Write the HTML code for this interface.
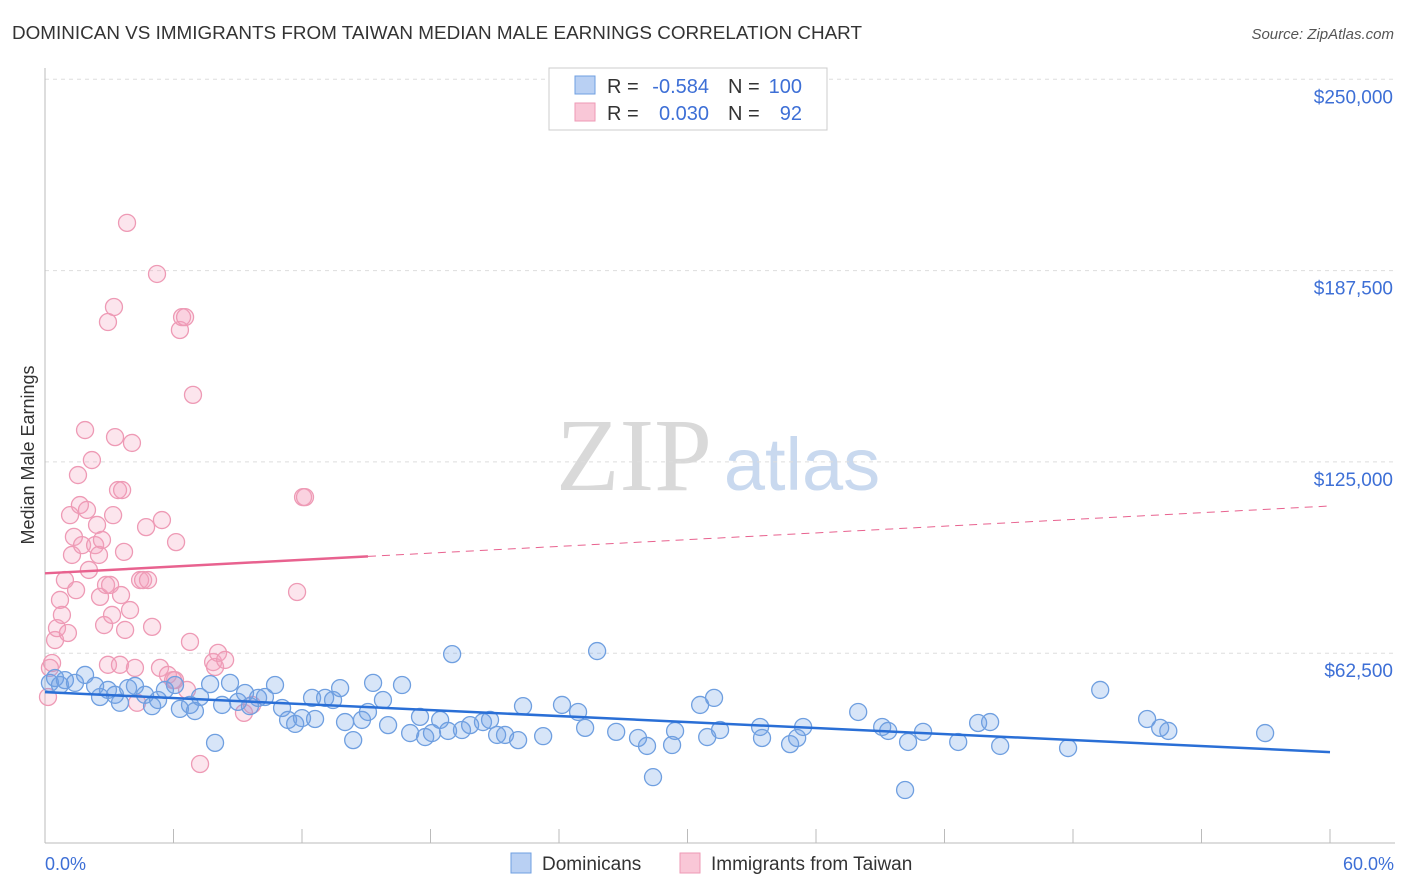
<!DOCTYPE html>
<html><head><meta charset="utf-8"><style>
body{margin:0;background:#fff;font-family:"Liberation Sans",sans-serif;}
svg{display:block}
</style></head><body>
<svg id="chart" width="1406" height="892" viewBox="0 0 1406 892">
<text x="12" y="39" font-size="18" fill="#333" textLength="850" lengthAdjust="spacingAndGlyphs">DOMINICAN VS IMMIGRANTS FROM TAIWAN MEDIAN MALE EARNINGS CORRELATION CHART</text>
<text x="1394" y="39" font-size="15" fill="#555" font-style="italic" text-anchor="end">Source: ZipAtlas.com</text>
<g>
<text x="634" y="490" font-size="104" fill="#d9d9d9" font-family="Liberation Serif,serif" text-anchor="middle">ZIP</text>
<text x="802" y="490" font-size="74" fill="#c9d9ef" text-anchor="middle">atlas</text>
</g>
<g id="grid"></g>
<g id="axes"></g>
<text transform="translate(34,455) rotate(-90)" font-size="18" fill="#333" text-anchor="middle">Median Male Earnings</text>
<text x="45" y="870" font-size="18" fill="#3d6fd6">0.0%</text>
<text x="1394" y="870" font-size="18" fill="#3d6fd6" text-anchor="end">60.0%</text>
<g id="pink"></g>
<g id="blue"></g>
<g id="lines"></g>
<g font-size="20">
<rect x="549" y="68" width="278" height="62" fill="#fff" stroke="#ccc"/>
<rect x="575" y="76" width="20" height="18" fill="#b9d0f3" stroke="#6f9fe0"/>
<rect x="575" y="103" width="20" height="18" fill="#f9c7d7" stroke="#ee9ab5"/>
<text x="607" y="93" fill="#333">R =</text>
<text x="709" y="93" fill="#3d6fd6" text-anchor="end">-0.584</text>
<text x="728" y="93" fill="#333">N =</text>
<text x="802" y="93" fill="#3d6fd6" text-anchor="end">100</text>
<text x="607" y="120" fill="#333">R =</text>
<text x="709" y="120" fill="#3d6fd6" text-anchor="end">0.030</text>
<text x="728" y="120" fill="#333">N =</text>
<text x="802" y="120" fill="#3d6fd6" text-anchor="end">92</text>
</g>
<g>
<rect x="511" y="853" width="20" height="20" fill="#b9d0f3" stroke="#6f9fe0"/>
<text x="542" y="870" font-size="19" fill="#333">Dominicans</text>
<rect x="680" y="853" width="20" height="20" fill="#f9c7d7" stroke="#ee9ab5"/>
<text x="711" y="870" font-size="19" fill="#333">Immigrants from Taiwan</text>
</g>
</svg>
<script>
const yTicks=[62.5,125,187.5,250];
const yTickLabels=["$62,500","$125,000","$187,500","$250,000"];
const xTicks=[0,6,12,18,24,30,36,42,48,54,60];
const blueX=[0.23,0.47,0.70,0.93,1.40,1.87,2.34,2.57,2.94,3.27,3.50,3.88,4.20,4.67,5.00,5.28,5.60,6.07,6.30,6.77,7.00,7.24,7.71,7.94,8.27,8.64,9.01,9.34,9.57,9.95,10.27,10.74,11.07,11.35,11.68,12.00,12.47,12.61,13.08,13.45,13.78,14.01,14.39,14.80,15.08,15.32,15.78,16.02,16.67,17.05,17.51,17.75,18.07,18.45,18.82,19.01,19.47,19.85,20.45,20.78,21.11,21.48,22.09,22.32,23.26,24.14,24.89,25.22,25.78,26.67,27.69,28.11,28.39,29.28,29.42,30.59,30.92,31.24,31.52,33.39,33.48,34.79,35.12,35.40,37.97,39.09,39.37,40.30,40.16,41.00,42.64,43.57,44.13,44.60,47.77,49.27,51.46,52.07,52.45,56.97];
const blueY=[52.8,54.4,52.1,53.7,52.8,55.4,51.8,48.2,50.5,48.9,46.3,51.1,51.8,48.9,45.2,47.2,50.5,52.1,44.3,45.6,43.6,48.2,52.4,33.2,45.6,52.8,46.6,49.5,45.2,47.9,48.2,52.1,44.6,40.7,39.4,41.3,47.9,41.0,47.9,47.2,51.1,40.0,34.1,40.7,43.3,52.8,47.2,39.0,52.1,36.4,41.7,35.1,36.4,40.7,37.1,62.2,37.4,39.0,40.0,40.7,35.8,35.8,34.1,45.2,35.4,45.6,43.3,38.1,63.2,36.8,34.8,32.2,22.0,32.5,37.1,45.6,35.1,47.9,37.4,38.4,34.8,32.8,34.8,38.4,43.3,38.4,37.1,33.5,17.8,36.8,33.5,39.7,40.0,32.2,31.5,50.5,41.0,38.1,37.1,36.4];
const pinkX=[0.14,0.23,0.33,0.47,0.56,0.70,0.79,0.93,1.07,1.17,1.26,1.35,1.45,1.54,1.63,1.73,1.87,1.96,2.05,2.19,2.34,2.43,2.52,2.57,2.66,2.76,2.85,2.94,2.94,3.04,3.13,3.18,3.22,3.27,3.41,3.50,3.55,3.60,3.69,3.74,3.83,3.97,4.06,4.20,4.30,4.44,4.58,4.72,4.81,5.00,5.23,5.37,5.46,5.74,5.98,6.07,6.12,6.30,6.40,6.54,6.63,6.77,6.91,7.24,7.85,7.94,8.08,8.41,9.29,9.67,11.77,12.05,12.14];
const pinkY=[48.2,57.7,59.3,66.8,70.7,79.9,75.0,86.4,69.1,107.6,94.6,100.5,83.1,120.7,110.9,97.8,135.4,109.3,89.7,125.6,97.8,104.4,94.6,80.9,99.5,71.7,84.8,58.7,170.7,84.8,75.0,107.6,175.6,133.1,115.8,58.7,81.5,115.8,95.6,70.1,203.1,76.6,131.2,57.7,46.3,86.4,86.4,103.7,86.4,71.1,186.4,57.7,106.0,55.4,53.7,53.7,98.8,168.1,172.3,172.3,50.5,66.2,146.9,26.3,59.6,58.0,62.6,60.3,43.0,45.6,82.5,113.5,113.5];
const blueTrend=[49.8,30.2];
const pinkTrend=[88.6,110.6];
const pinkSolidEnd=15.08;
const NS="http://www.w3.org/2000/svg";
const sx=p=>45+p/60*1285;
const sy=v=>844.5-v/62.5*191.3;
function mk(tag,attrs,parent){const e=document.createElementNS(NS,tag);for(const k in attrs)e.setAttribute(k,attrs[k]);parent.appendChild(e);return e;}
const grid=document.getElementById('grid'),axes=document.getElementById('axes');
yTicks.forEach((t,i)=>{
  const l=mk('line',{x1:45,x2:1395,y1:sy(t),y2:sy(t),stroke:'#ddd','stroke-dasharray':'4,4'},grid);
  
  
  const tx=mk('text',{x:1393,y:sy(t)+24,'font-size':19,fill:'#3d6fd6','text-anchor':'end'},axes);
  tx.textContent=yTickLabels[i];
  
  
});
const al=mk('line',{x1:45,x2:45,y1:68,y2:843,stroke:'#bbb'},axes);


const bl=mk('line',{x1:45,x2:1395,y1:843,y2:843,stroke:'#bbb'},axes);


xTicks.forEach(t=>{
  const l=mk('line',{x1:sx(t),x2:sx(t),y1:829,y2:843,stroke:'#bbb'},axes);
  
  
});
function pts(xs,ys,g,fill,stroke,name){
  xs.forEach((x,i)=>{
    const c=mk('circle',{cx:sx(x),cy:sy(ys[i]),r:8.5,fill:fill,stroke:stroke,'stroke-width':1.3},g);
    
    
  });
}
pts(pinkX,pinkY,document.getElementById('pink'),'rgba(244,160,190,0.28)','#ee9ab5','taiwan-point');
pts(blueX,blueY,document.getElementById('blue'),'rgba(110,160,230,0.28)','#6f9fe0','dominican-point');
const lg=document.getElementById('lines');
const b=mk('line',{x1:sx(0),y1:sy(blueTrend[0]),x2:sx(60),y2:sy(blueTrend[1]),stroke:'#2a6fd6','stroke-width':2.5},lg);


const pv=pinkTrend[0]+(pinkTrend[1]-pinkTrend[0])*pinkSolidEnd/60;
const p1=mk('line',{x1:sx(0),y1:sy(pinkTrend[0]),x2:sx(pinkSolidEnd),y2:sy(pv),stroke:'#e8628f','stroke-width':2.5},lg);


const p2=mk('line',{x1:sx(pinkSolidEnd),y1:sy(pv),x2:sx(60),y2:sy(pinkTrend[1]),stroke:'#e8628f','stroke-width':1,'stroke-dasharray':'8,6'},lg);


</script>
</body></html>
